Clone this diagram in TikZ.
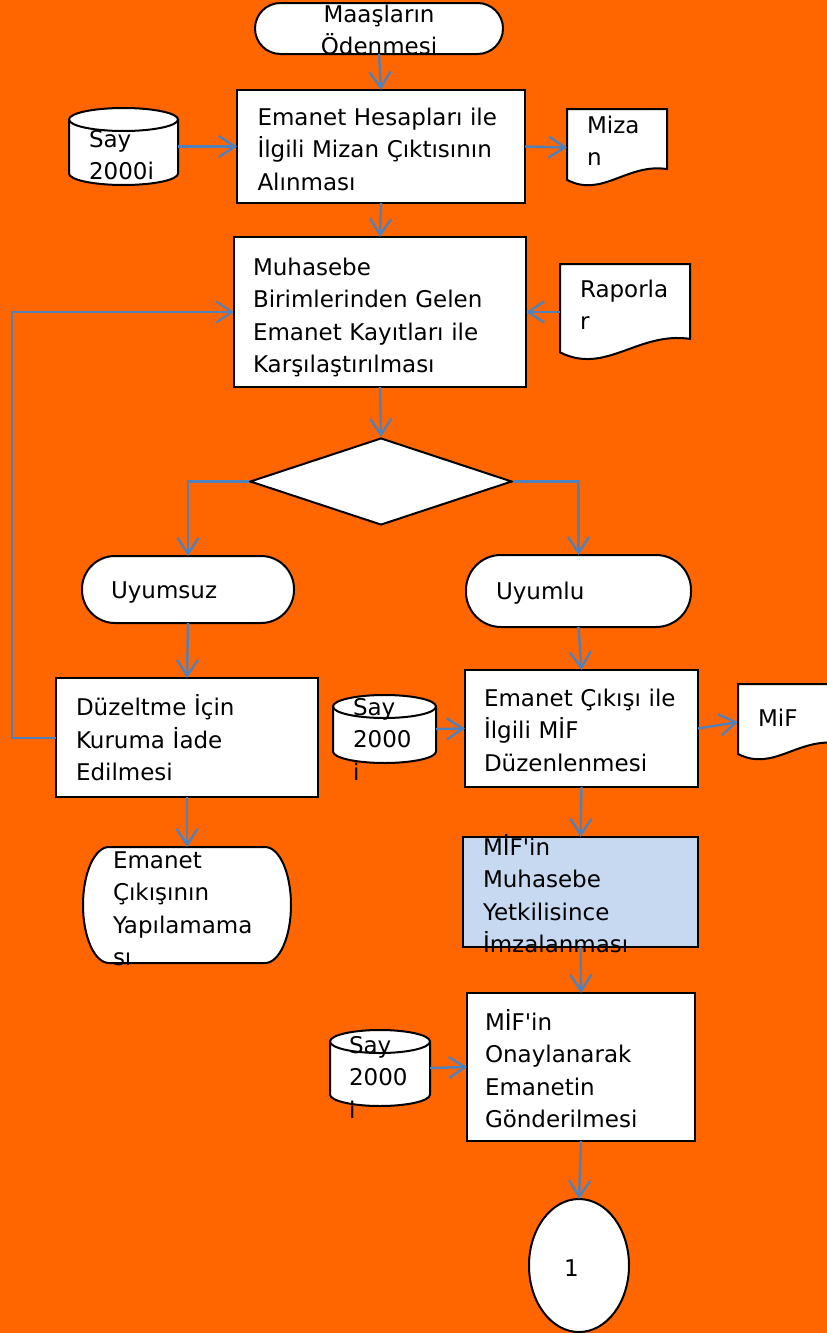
\documentclass[tikz,border=0pt]{standalone}
\usepackage{fontspec}
\setmainfont{DejaVu Sans}[Ligatures=TeXOff]
\usetikzlibrary{shapes.geometric,arrows.meta,calc}
\definecolor{bgorange}{HTML}{FF6600}
\definecolor{flowblue}{HTML}{4F81BD}
\definecolor{lightblue}{HTML}{C6D9F1}
\pgfdeclarelayer{bg}
\pgfdeclarelayer{shapes}
\pgfsetlayers{bg,shapes,main}
\tikzset{
  txt/.style={font=\fontsize{23}{32.5}\selectfont, inner sep=0pt, outer sep=0pt, align=left},
  proc/.style={txt, rectangle, draw, line width=2pt, fill=white},
  term/.style={proc, rounded corners=#1},
  holder/.style={txt, rectangle},
  tb/.style 2 args={text height=#1pt, text depth=#2pt},
  shp/.style={draw, line width=2pt, fill=white},
  flow/.style={draw=flowblue, line width=2.4pt, -{Straight Barb[length=16pt,width=21pt]}},
  loopline/.style={draw=flowblue, line width=2pt, -{Straight Barb[length=16pt,width=21pt]}},
}
% cylinder drawn on the frame of a named node: #1 node, #2 half width
\newcommand\drawcyl[2]{%
  \draw[shp] ($(#1.north west)+(0,-11.5)$) -- ($(#1.south west)+(0,11.5)$)
    arc[start angle=180,end angle=360,x radius=#2pt,y radius=11.5pt]
    -- ($(#1.north east)+(0,-11.5)$)
    arc[start angle=0,end angle=180,x radius=#2pt,y radius=11.5pt] -- cycle;
  \draw[line width=2pt] ($(#1.north west)+(0,-11.5)$)
    arc[start angle=180,end angle=360,x radius=#2pt,y radius=11.5pt];}
% document shape: #1 node, #2 width, #3 height
\newcommand\drawdoc[3]{%
  \draw[shp] (#1.north west) -- (#1.north east) -- ($(#1.south east)+(0,0.22*#3)$)
    .. controls ($(#1.south west)+(0.6*#2,0.30*#3)$) and ($(#1.south west)+(0.35*#2,-0.16*#3)$)
    .. ($(#1.south west)+(0,0.08*#3)$) -- cycle;}
\begin{document}
\begin{tikzpicture}[x=1pt,y=1pt]
\useasboundingbox (0,0) rectangle (827,-1333);
\begin{pgfonlayer}{bg}
  \fill[bgorange] (0,0) rectangle (827,-1333);
\end{pgfonlayer}

% nodes
\node[term=25.5pt, minimum width=248pt, minimum height=51pt, text width=190pt, align=center, tb={17}{30}]
  (start) at (379,-28.5) {Maaşların\\Ödenmesi};
\node[proc, minimum width=288pt, minimum height=113pt, text width=247pt, tb={17}{60}]
  (box1) at (381,-146.5) {\mbox{Emanet Hesapları ile}\\\mbox{İlgili Mizan Çıktısının}\\\mbox{Alınması}};
\node[holder, minimum width=109pt, minimum height=77pt, text width=69pt, tb={17}{16}]
  (cyl1) at (123.5,-146.5) {\mbox{Say}\\\mbox{2000i}};
\node[holder, minimum width=100pt, minimum height=77pt, text width=60pt, tb={17}{46}]
  (mizan) at (617,-147.5) {\mbox{Miza}\\\mbox{n}};
\node[proc, minimum width=292pt, minimum height=150pt, text width=254pt, tb={17}{91}]
  (box2) at (380,-312) {\mbox{Muhasebe}\\\mbox{Birimlerinden Gelen}\\\mbox{Emanet Kayıtları ile}\\\mbox{Karşılaştırılması}};
\node[holder, minimum width=130pt, minimum height=96pt, text width=90pt, tb={17}{47}]
  (rap) at (625,-312) {\mbox{Raporla}\\\mbox{r}};
\node[diamond, draw, fill=white, line width=2pt, inner sep=0pt, minimum width=262pt, minimum height=87pt]
  (dia) at (381,-481.5) {};
\node[term=33pt, minimum width=212pt, minimum height=67pt, text width=154pt, tb={17}{0}]
  (uyumsuz) at (188,-589.5) {Uyumsuz};
\node[term=35pt, minimum width=225pt, minimum height=72pt, text width=165pt, tb={17}{0}]
  (uyumlu) at (578.5,-591) {Uyumlu};
\node[proc, minimum width=262pt, minimum height=119pt, text width=222pt, tb={17}{60.6}]
  (duz) at (187,-737.5) {\mbox{Düzeltme İçin}\\\mbox{Kuruma İade}\\\mbox{Edilmesi}};
\node[proc, minimum width=233pt, minimum height=117pt, text width=195pt, tb={17}{62}]
  (emc) at (581.5,-728.5) {\mbox{Emanet Çıkışı ile}\\\mbox{İlgili MİF}\\\mbox{Düzenlenmesi}};
\node[holder, minimum width=103pt, minimum height=68pt, text width=63pt, tb={17}{45}]
  (cyl2) at (384.5,-729) {\mbox{Say}\\\mbox{2000}\\\mbox{i}};
\node[holder, minimum width=100pt, minimum height=76pt, text width=60pt, tb={17}{9}]
  (mif) at (788,-722) {MiF};
\node[holder, minimum width=208pt, minimum height=116pt, text width=148pt, tb={17}{91}]
  (fail) at (187,-905) {\mbox{Emanet}\\\mbox{Çıkışının}\\\mbox{Yapılamama}\\\mbox{sı}};
\node[proc, fill=lightblue, minimum width=235pt, minimum height=110pt, text width=195pt, tb={17}{91}]
  (mm) at (580.5,-892) {\mbox{MİF'in}\\\mbox{Muhasebe}\\\mbox{Yetkilisince}\\\mbox{İmzalanması}};
\node[proc, minimum width=228pt, minimum height=148pt, text width=192pt, tb={17}{91}]
  (onay) at (581,-1067) {\mbox{MİF'in}\\\mbox{Onaylanarak}\\\mbox{Emanetin}\\\mbox{Gönderilmesi}};
\node[holder, minimum width=100pt, minimum height=76pt, text width=62pt, tb={17}{47}]
  (cyl3) at (380,-1068) {\mbox{Say}\\\mbox{2000}\\\mbox{i}};
\node[txt, ellipse, draw, fill=white, line width=2pt, minimum width=100pt, minimum height=133pt, text width=30pt, tb={21}{0}]
  (circ) at (579,-1265.5) {1};

% drawn shapes behind the text
\begin{pgfonlayer}{shapes}
  \drawcyl{cyl1}{54.5}
  \drawcyl{cyl2}{51.5}
  \drawcyl{cyl3}{50}
  \drawdoc{mizan}{100}{77}
  \drawdoc{rap}{130}{96}
  \drawdoc{mif}{100}{76}
  \draw[shp] ($(fail.north west)+(26,0)$) -- ($(fail.north east)+(-26,0)$)
    arc[start angle=90,end angle=-90,x radius=26pt,y radius=58pt]
    -- ($(fail.south west)+(26,0)$)
    arc[start angle=270,end angle=90,x radius=26pt,y radius=58pt] -- cycle;
\end{pgfonlayer}

% connectors
\draw[flow] (start.south) -- (box1.north);
\draw[flow] (cyl1.east) -- (box1.west);
\draw[flow] (box1.east) -- (mizan.west);
\draw[flow] (box1.south) -- (box2.north);
\draw[flow] (rap.west) -- (box2.east);
\draw[flow] (box2.south) -- (dia.north);
\draw[flow] (dia.west) -| (uyumsuz.north);
\draw[flow] (dia.east) -| (uyumlu.north);
\draw[flow] (uyumsuz.south) -- (duz.north);
\draw[flow] (uyumlu.south) -- (emc.north);
\draw[loopline] (duz.west) -- ++(-44,0) |- (box2.west);
\draw[flow] (cyl2.east) -- (emc.west);
\draw[flow] (emc.east) -- (mif.west);
\draw[flow] (duz.south) -- (fail.north);
\draw[flow] (emc.south) -- (mm.north);
\draw[flow] (mm.south) -- (onay.north);
\draw[flow] (cyl3.east) -- (onay.west);
\draw[flow] (onay.south) -- (circ.north);
\end{tikzpicture}
\end{document}
